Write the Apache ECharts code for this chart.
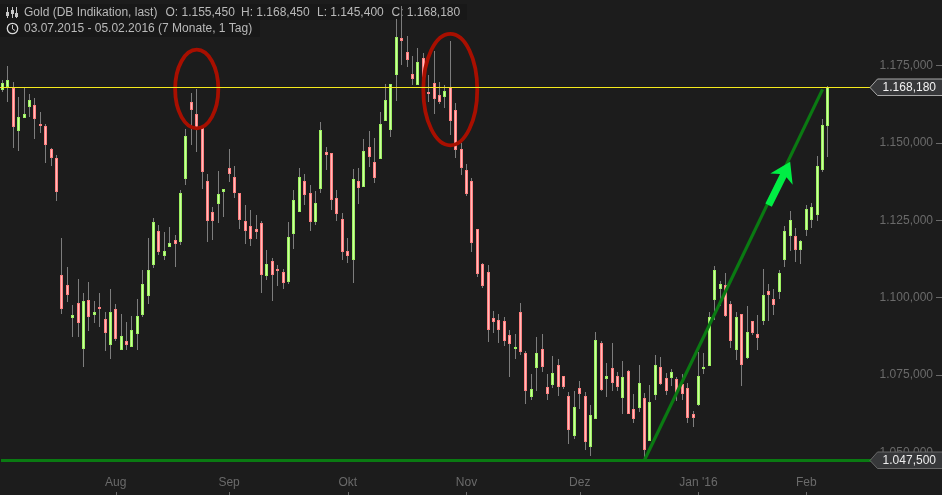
<!DOCTYPE html>
<html>
<head>
<meta charset="utf-8">
<script src="https://cdn.jsdelivr.net/npm/echarts@6/dist/echarts.min.js"></script>
<style>html,body{margin:0;padding:0;background:#1c1c1c}#c{width:942px;height:495px}</style>
</head>
<body>
<div id="c"></div>
<script>
// Prices in thousands of the label units (1168.18 = "1.168,180")
const openV = [1167.1,1168.1,1167.7,1153.8,1158.0,1161.6,1162.2,1156.1,1155.5,1148.0,1145.1,1107.3,1104.1,1093.4,1098.2,1083.4,1099.2,1094.4,1097.0,1093.1,1084.7,1096.3,1083.1,1086.0,1084.0,1088.2,1094.4,1100.5,1110.5,1121.5,1113.4,1116.3,1118.6,1118.0,1138.3,1163.2,1159.3,1154.8,1137.7,1127.7,1130.2,1134.1,1141.9,1139.0,1133.8,1124.7,1123.1,1122.2,1124.1,1107.0,1111.8,1109.2,1108.3,1105.0,1120.5,1127.7,1137.7,1133.8,1124.4,1135.1,1147.0,1146.7,1132.2,1125.4,1115.0,1112.1,1137.7,1135.7,1148.7,1143.8,1144.8,1157.1,1154.2,1171.9,1183.9,1179.4,1172.3,1168.7,1177.4,1166.4,1169.3,1165.5,1164.8,1168.1,1160.6,1148.0,1141.2,1137.7,1122.2,1110.8,1108.3,1093.4,1092.8,1092.4,1087.9,1083.4,1095.3,1082.1,1067.9,1077.2,1083.4,1071.1,1071.7,1078.2,1074.6,1068.2,1055.3,1070.8,1068.2,1051.7,1060.8,1085.3,1073.7,1077.2,1074.6,1067.5,1076.3,1064.0,1064.3,1067.5,1053.6,1068.5,1077.6,1074.0,1074.0,1073.7,1072.0,1070.8,1062.4,1065.3,1076.9,1077.9,1099.2,1102.8,1104.1,1097.9,1083.1,1094.7,1080.5,1092.4,1088.2,1092.4,1102.1,1099.5,1101.8,1112.1,1119.9,1119.9,1115.4,1121.8,1125.1,1126.7,1141.2,1155.45];
const closeV = [1169.3,1170.3,1155.1,1158.4,1159.3,1163.9,1157.7,1155.8,1149.3,1145.1,1134.1,1096.3,1100.8,1094.4,1091.8,1098.9,1093.7,1095.3,1096.6,1088.5,1095.3,1086.6,1087.6,1084.7,1089.5,1094.0,1104.4,1108.9,1124.4,1114.7,1115.0,1117.6,1117.3,1133.8,1152.2,1160.6,1154.8,1140.6,1124.7,1124.7,1133.5,1135.1,1139.9,1133.8,1125.1,1121.5,1118.9,1121.2,1107.3,1110.8,1107.3,1108.6,1104.7,1119.6,1131.5,1139.0,1133.1,1124.4,1130.6,1154.2,1146.1,1131.5,1127.0,1114.7,1113.4,1138.3,1135.4,1147.4,1145.4,1138.6,1156.1,1163.9,1169.0,1184.2,1182.9,1176.8,1170.6,1176.1,1167.1,1166.1,1164.2,1163.2,1166.8,1157.1,1147.7,1141.9,1133.5,1117.6,1107.6,1103.8,1089.5,1092.1,1089.5,1086.0,1085.0,1084.0,1082.4,1069.8,1070.4,1082.1,1077.6,1068.8,1075.6,1071.1,1071.1,1057.2,1064.6,1068.8,1053.3,1062.0,1086.3,1070.1,1074.6,1072.4,1071.1,1074.3,1062.4,1060.8,1072.4,1050.7,1066.2,1078.2,1072.0,1069.8,1075.9,1068.8,1068.8,1061.1,1061.1,1074.6,1077.6,1093.7,1108.9,1104.4,1094.0,1086.0,1093.7,1078.2,1088.9,1088.5,1086.9,1100.8,1100.8,1097.6,1107.9,1121.5,1125.1,1115.4,1118.3,1128.6,1129.3,1142.5,1155.8,1168.18];
const lowV = [1166.4,1163.2,1148.3,1147.4,1158.0,1158.4,1151.2,1153.2,1143.5,1142.5,1131.2,1094.7,1098.6,1087.3,1087.3,1077.6,1089.2,1091.8,1090.5,1082.7,1080.1,1086.0,1083.1,1083.1,1084.0,1083.1,1093.7,1097.9,1109.6,1113.8,1112.1,1116.3,1109.9,1117.0,1136.4,1149.3,1147.0,1135.1,1118.0,1118.6,1124.1,1126.0,1137.3,1132.2,1122.2,1117.3,1116.7,1118.9,1101.5,1105.7,1098.9,1103.8,1102.8,1104.4,1115.7,1127.7,1129.9,1121.5,1123.4,1133.8,1141.2,1128.3,1124.7,1112.1,1111.2,1104.7,1130.2,1135.7,1142.2,1137.0,1144.8,1157.1,1151.9,1163.5,1175.2,1174.5,1168.7,1168.7,1167.1,1163.2,1159.3,1162.5,1161.3,1152.5,1145.1,1139.6,1132.8,1114.7,1106.6,1103.1,1085.6,1088.5,1085.3,1084.3,1074.3,1080.1,1081.4,1065.6,1066.9,1069.8,1075.9,1066.9,1070.8,1068.2,1070.4,1052.7,1054.3,1064.0,1050.7,1048.8,1060.8,1069.8,1067.9,1069.8,1069.8,1062.4,1062.4,1059.5,1063.0,1048.2,1053.6,1066.9,1071.7,1068.5,1071.4,1066.6,1066.9,1059.5,1058.2,1065.0,1075.3,1077.9,1092.8,1097.3,1093.7,1083.7,1079.8,1071.4,1080.1,1087.9,1083.1,1091.1,1092.4,1094.4,1099.5,1109.9,1115.0,1111.5,1110.8,1119.9,1122.5,1124.7,1140.6,1145.4];
const highV = [1170.3,1174.8,1169.7,1164.8,1167.7,1165.8,1164.5,1160.0,1156.1,1148.3,1146.1,1119.2,1109.9,1097.6,1106.0,1101.5,1105.0,1098.9,1101.5,1095.3,1102.8,1097.9,1094.7,1092.1,1094.0,1099.5,1108.9,1119.2,1125.7,1123.4,1121.2,1122.8,1120.2,1134.8,1154.5,1166.1,1167.4,1155.5,1139.9,1129.3,1140.9,1135.1,1148.0,1142.5,1133.8,1129.9,1128.3,1126.7,1124.7,1115.4,1112.8,1110.5,1109.2,1124.4,1134.8,1141.9,1139.9,1136.4,1134.4,1156.7,1148.7,1146.7,1134.8,1127.3,1119.2,1141.5,1141.9,1151.2,1153.8,1151.6,1160.0,1169.0,1169.0,1190.0,1194.2,1184.5,1178.1,1180.7,1179.0,1171.9,1179.7,1169.7,1168.7,1182.9,1162.9,1150.0,1143.2,1138.6,1122.2,1111.2,1110.5,1095.7,1094.7,1093.7,1089.5,1088.2,1098.2,1082.7,1075.3,1087.3,1088.2,1075.3,1081.1,1080.1,1074.6,1069.5,1069.8,1073.0,1069.5,1065.3,1088.9,1086.0,1078.8,1085.3,1075.9,1079.5,1076.6,1068.8,1078.2,1069.1,1071.7,1081.4,1080.8,1075.6,1076.9,1074.3,1075.3,1072.4,1063.3,1082.4,1082.1,1095.3,1110.2,1105.3,1107.9,1098.9,1095.3,1094.7,1097.3,1092.4,1094.4,1109.2,1104.4,1102.8,1108.9,1123.1,1128.0,1122.5,1118.6,1129.9,1130.6,1145.8,1157.7,1168.45];

const holidays = ['2015-12-25', '2016-01-01'];
const tickLabels = {'2015-08-03':'Aug','2015-09-01':'Sep','2015-10-01':'Okt','2015-11-02':'Nov','2015-12-01':'Dez','2016-01-04':"Jan '16",'2016-02-01':'Feb'};
const lastLevel = [1168.18, '1.168,180'];
const lowLevel = [1047.5, '1.047,500'];
const trendLine = [[119.1, 1047.5], [152.05, 1167.3]];
const arrow = [[141.95, 1129.9], [145.8, 1143.9]];
const ellipses = [[35.96, 1167.4, 3.86, 12.7], [82.95, 1167.2, 4.87, 18.0]];
const headerTop = [['Gold (DB Indikation, last)', 24], ['O: 1.155,450', 165.5], ['H: 1.168,450', 241], ['L: 1.145,400', 317], ['C: 1.168,180', 391.5]];
const headerBottom = '03.07.2015 - 05.02.2016 (7 Monate, 1 Tag)';

// trading days, then a few empty slots up to the price scale
const categories = [];
for (let d = new Date(Date.UTC(2015, 6, 3)); categories.length < openV.length; d = new Date(d.getTime() + 864e5)) {
  const s = d.toISOString().slice(0, 10);
  if (d.getUTCDay() % 6 !== 0 && !holidays.includes(s)) categories.push(s);
}
while (categories.length < 162) categories.push('+' + categories.length);

const FONT = '"Liberation Sans", Arial, sans-serif';
const C = {bg:'#1c1c1c', strip:'#181818', wick:'#7d7d7d', up:'#9cf060', upIn:'#ccff9e', dn:'#ff8080', dnIn:'#ffbcbc',
  axis:'#6a6a6a', head:'#b9b9b9', yellow:'#f5ea1c', green:'#0a7a12', red:'#a80f00', arrow:'#00ee44'};

const candleData = openV.map((o, i) => [i, o, closeV[i], lowV[i], highV[i]]);

function renderCandle(p, api) {
  const i = api.value(0), o = api.value(1), c = api.value(2);
  const px = Math.floor(api.coord([i, o])[0]);
  const yT = Math.round(api.coord([i, Math.max(o, c)])[1]);
  const yB = Math.max(yT + 2, Math.round(api.coord([i, Math.min(o, c)])[1]));
  const yH = Math.round(api.coord([i, api.value(4)])[1]);
  const yL = Math.round(api.coord([i, api.value(3)])[1]);
  const up = c >= o;
  return {type:'group', children:[
    {type:'rect', shape:{x:px, y:yH, width:1, height:Math.max(1, yL - yH)}, style:{fill:C.wick}},
    {type:'rect', shape:{x:px - 1, y:yT, width:3, height:yB - yT}, style:{fill:up ? C.up : C.dn}},
    {type:'rect', shape:{x:px, y:yT + 1, width:1, height:Math.max(0, yB - yT - 2)}, style:{fill:up ? C.upIn : C.dnIn}}
  ]};
}

function renderLevel(p, api) {
  const v = api.value(0), text = p.dataIndex === 0 ? lastLevel[1] : lowLevel[1];
  const y = Math.round(api.coord([0, v])[1]);
  const first = p.dataIndex === 0;
  const line = first
    ? {type:'rect', shape:{x:0, y:y, width:872, height:1}, style:{fill:C.yellow}}
    : {type:'rect', shape:{x:1, y:y - 1, width:871, height:3}, style:{fill:C.green}};
  return {type:'group', children:[line,
    {type:'polygon', shape:{points:[[870,y+0.5],[877.5,y-8],[943,y-8],[943,y+8.5],[877.5,y+8.5]]},
     style:{fill:'#37383a', stroke:first ? '#a8a8a8' : '#686868', lineWidth:1}},
    {type:'text', style:{x:936, y:y + 0.5, text:text, fill:first ? '#f2f2f2' : '#ededed', font:'12px ' + FONT, textAlign:'right', textVerticalAlign:'middle'}}
  ]};
}

function renderNotes(p, api) {
  const kids = [];
  ellipses.forEach(e => {
    const c = api.coord([e[0], e[1]]), s = api.coord([e[0] + e[2], e[1] + e[3]]);
    kids.push({type:'ellipse', shape:{cx:c[0], cy:c[1], rx:Math.abs(s[0] - c[0]), ry:Math.abs(s[1] - c[1])}, style:{fill:null, stroke:C.red, lineWidth:3.8}});
  });
  const a = api.coord(trendLine[0]), b = api.coord(trendLine[1]);
  kids.push({type:'line', shape:{x1:a[0], y1:a[1], x2:b[0], y2:b[1]}, style:{stroke:C.green, lineWidth:3.2}});
  const t = api.coord(arrow[0]), h = api.coord(arrow[1]);
  const dx = h[0] - t[0], dy = h[1] - t[1], L = Math.hypot(dx, dy), ux = dx / L, uy = dy / L, nx = -uy, ny = ux;
  const pt = (along, side) => [h[0] - ux * along + nx * side, h[1] - uy * along + ny * side];
  kids.push({type:'polygon', shape:{points:[h, pt(19.5, 12.5), pt(15.5, 3.6), [t[0] + nx * 3.6, t[1] + ny * 3.6], [t[0] - nx * 3.6, t[1] - ny * 3.6], pt(15.5, -3.6), pt(19.5, -12.5)]}, style:{fill:C.arrow}});
  return {type:'group', children:kids};
}

const headText = (text, x, y) => ({type:'text', x:x, y:y, style:{text:text, fill:C.head, font:'12px ' + FONT, textVerticalAlign:'middle'}});
const iconLine = (x1, y1, x2, y2, w) => ({type:'line', shape:{x1, y1, x2, y2}, style:{stroke:'#c8c8c8', lineWidth:w || 1}});

const chart = echarts.init(document.getElementById('c'), null, {renderer:'canvas'});
chart.setOption({
  animation:false,
  backgroundColor:C.bg,
  grid:{left:-0.2, top:-11.85, width:874, height:541.45, containLabel:false, outerBoundsMode:'none'},
  xAxis:{type:'category', data:categories, boundaryGap:true, offset:-34.6,
    axisLine:{show:false},
    axisTick:{show:true, inside:true, length:3, alignWithLabel:true, lineStyle:{color:C.axis}, interval:(i, v) => v in tickLabels},
    axisLabel:{inside:true, margin:6, color:C.axis, fontFamily:FONT, fontSize:12, interval:(i, v) => v in tickLabels, formatter:v => tickLabels[v] || ''},
    splitLine:{show:false}},
  yAxis:{type:'value', position:'right', min:1025, max:1200, interval:25, offset:62.2, scale:true,
    axisLine:{show:false},
    axisTick:{show:true, length:6, lineStyle:{color:C.axis}},
    axisLabel:{inside:true, margin:3, color:C.axis, fontFamily:FONT, fontSize:12, showMinLabel:true, showMaxLabel:true,
      formatter:v => '1.' + String(v - 1000).padStart(3, '0') + ',000'},
    splitLine:{show:false}},
  graphic:{elements:[
    {type:'rect', shape:{x:0, y:4, width:467, height:16}, style:{fill:C.strip}},
    {type:'rect', shape:{x:0, y:20, width:260, height:17}, style:{fill:C.strip}},
    ...headerTop.map(h => headText(h[0], h[1], 12.5)),
    headText(headerBottom, 24, 28.5),
    iconLine(7.5, 7, 7.5, 18), iconLine(12.5, 7, 12.5, 18), iconLine(16.5, 7, 16.5, 18),
    {type:'rect', shape:{x:6, y:12, width:3, height:4}, style:{fill:'#c8c8c8'}},
    {type:'rect', shape:{x:11, y:10, width:3, height:4}, style:{fill:'#c8c8c8'}},
    {type:'rect', shape:{x:15, y:13, width:3, height:4}, style:{fill:'#c8c8c8'}},
    {type:'circle', shape:{cx:12.5, cy:28.5, r:5.2}, style:{fill:null, stroke:'#d8d8d8', lineWidth:1.3}},
    iconLine(12.5, 25, 12.5, 29), iconLine(12.5, 29, 15, 30.5)
  ]},
  series:[
    {name:'Gold', type:'custom', z:3, clip:false, data:candleData, renderItem:renderCandle, encode:{x:0, y:[1,2,3,4]}, silent:true},
    {name:'Notes', type:'custom', z:4, clip:false, data:[[0, 1100]], renderItem:renderNotes, encode:{x:0, y:1}, silent:true},
    {name:'Levels', type:'custom', z:5, clip:false, data:[[lastLevel[0]], [lowLevel[0]]], renderItem:renderLevel, encode:{y:0}, silent:true}
  ]
});
</script>
</body>
</html>
